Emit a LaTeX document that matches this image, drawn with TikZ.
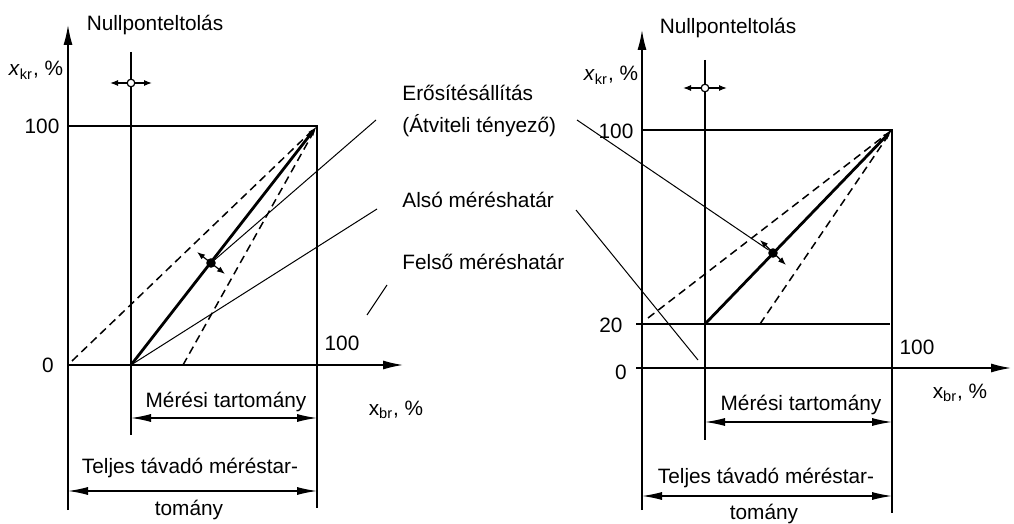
\documentclass[tikz,border=0pt]{standalone}
\usepackage{fontspec}
\setmainfont{Liberation Sans}
\usetikzlibrary{arrows.meta,positioning}

\begin{document}
\begin{tikzpicture}[
        x=0.5pt, y=-0.5pt,
        lbl/.style={inner sep=0pt, align=left, font=\fontsize{10.4}{16}\selectfont},
        axis/.style={-{Latex[length=10pt,width=4.5pt]}, line width=0.7pt},
        frame/.style={line width=0.6pt},
        leader/.style={line width=0.5pt},
        gain/.style={line width=1.4pt, -{Latex[length=5pt,width=3.2pt]}},
        limit/.style={dash pattern=on 4pt off 2.5pt, line width=0.75pt},
        dim/.style={{Latex[length=10pt,width=4pt]}-{Latex[length=10pt,width=4pt]}, line width=0.6pt},
        shiftarr/.style={{Latex[length=4pt,width=3pt]}-{Latex[length=4pt,width=3pt]}, line width=0.6pt},
        knob/.style={circle, draw, fill=white, inner sep=0pt, minimum size=3.8pt, line width=0.6pt},
        pivot/.style={circle, fill, inner sep=0pt, minimum size=4.8pt}
    ]
        \useasboundingbox (0,0) rectangle (1014,524);

        % left diagram
        \coordinate (Lorg) at (68,365);
        \coordinate (Lytop) at (68,25);
        \coordinate (Lybot) at (68,510);
        \coordinate (Lxend) at (403,365);
        \coordinate (Lzero) at (131,365);
        \coordinate (Lztop) at (131,52);
        \coordinate (Lzbot) at (131,435);
        \coordinate (Lhund) at (68,126);
        \coordinate (Lfull) at (317,126);
        \coordinate (Lrbot) at (317,508);
        \coordinate (Lupd) at (72,361);
        \coordinate (Llod) at (183,365);
        \coordinate (Lpa) at (197,252);
        \coordinate (Lpb) at (225,274);
        \coordinate (Lkw) at (110,83);
        \coordinate (Lke) at (152,83);
        \coordinate (Lm1) at (131,418);
        \coordinate (Lm2) at (317,418);
        \coordinate (Lt1) at (68,491);
        \coordinate (Lt2) at (317,491);
        \coordinate (Lgainend) at (376,120);
        \coordinate (Llowend) at (377,209);
        \coordinate (Lupa) at (367,315);
        \coordinate (Lupb) at (387,285);

        \draw[axis] (Lybot) -- (Lytop);
        \draw[axis] (Lorg) -- (Lxend);
        \draw[frame] (Lztop) -- (Lzbot);
        \draw[frame] (Lhund) -- (Lfull) -- (Lrbot);
        \draw[limit] (Lupd) -- (Lfull);
        \draw[limit] (Llod) -- (Lfull);
        \draw[gain] (Lzero) -- (Lfull);
        \draw[shiftarr] (Lpa) -- (Lpb);
        \node[pivot] (Ldot) at (211,263) {};
        \draw[shiftarr] (Lkw) -- (Lke);
        \node[knob] (Lknob) at (131,83) {};
        \draw[dim] (Lm1) -- (Lm2);
        \draw[dim] (Lt1) -- (Lt2);
        \draw[leader] (Ldot) -- (Lgainend);
        \draw[leader] (Lzero) -- (Llowend);
        \draw[leader] (Lupa) -- (Lupb);

        \node[lbl] (Lnull) at (155,25) {Nullponteltolás};
        \node[lbl] (Lykr) at (36,70) {\textit{x}\textsubscript{kr}, \%};
        \node[lbl] (Ly100) at (42,126) {100};
        \node[lbl] (Ly0) at (48,365) {0};
        \node[lbl] (Lx100) at (342,343) {100};
        \node[lbl] (Lxbr) at (396,410) {x\textsubscript{br}, \%};
        \node[lbl] (Lmeas) at (226,402) {Mérési tartomány};
        \node[lbl] (Ltot) at (190,468) {Teljes távadó méréstar-};
        \node[lbl] (Ltot2) at (189,510) {tomány};

        \node[lbl, anchor=west] (gaintxt) at (402,111) {Erősítésállítás\\(Átviteli tényező)};
        \node[lbl, anchor=west] (lowtxt) at (402,200) {Alsó méréshatár};
        \node[lbl, anchor=west] (uptxt) at (402,262) {Felső méréshatár};

        % right diagram
        \coordinate (Rorg) at (642,368);
        \coordinate (Rytop) at (642,30);
        \coordinate (Rybot) at (642,510);
        \coordinate (Rxbeg) at (636,368);
        \coordinate (Rxend) at (1011,368);
        \coordinate (Rzero) at (705,324);
        \coordinate (Rztop) at (705,60);
        \coordinate (Rzbot) at (705,440);
        \coordinate (Rhund) at (642,130);
        \coordinate (Rfull) at (892,130);
        \coordinate (Rrbot) at (892,513);
        \coordinate (Rtwa) at (636,324);
        \coordinate (Rtwb) at (890,324);
        \coordinate (Rupd) at (648,318);
        \coordinate (Rlod) at (760,324);
        \coordinate (Rpa) at (760,240);
        \coordinate (Rpb) at (786,265);
        \coordinate (Rkw) at (683,88);
        \coordinate (Rke) at (727,88);
        \coordinate (Rm1) at (705,422);
        \coordinate (Rm2) at (892,422);
        \coordinate (Rt1) at (642,496);
        \coordinate (Rt2) at (892,496);
        \coordinate (Rgainbeg) at (577,120);
        \coordinate (Rlowbeg) at (576,210);
        \coordinate (Rlowend) at (698,360);

        \draw[axis] (Rybot) -- (Rytop);
        \draw[axis] (Rxbeg) -- (Rxend);
        \draw[frame] (Rztop) -- (Rzbot);
        \draw[frame] (Rhund) -- (Rfull) -- (Rrbot);
        \draw[frame] (Rtwa) -- (Rtwb);
        \draw[limit] (Rupd) -- (Rfull);
        \draw[limit] (Rlod) -- (Rfull);
        \draw[gain] (Rzero) -- (Rfull);
        \draw[shiftarr] (Rpa) -- (Rpb);
        \node[pivot] (Rdot) at (773,253) {};
        \draw[shiftarr] (Rkw) -- (Rke);
        \node[knob] (Rknob) at (705,88) {};
        \draw[dim] (Rm1) -- (Rm2);
        \draw[dim] (Rt1) -- (Rt2);
        \draw[leader] (Rgainbeg) -- (Rdot);
        \draw[leader] (Rlowbeg) -- (Rlowend);

        \node[lbl] (Rnull) at (728,28) {Nullponteltolás};
        \node[lbl] (Rykr) at (611,75) {\textit{x}\textsubscript{kr}, \%};
        \node[lbl] (Ry100) at (616,131) {100};
        \node[lbl] (Ry20) at (611,325) {20};
        \node[lbl] (Ry0) at (621,372) {0};
        \node[lbl] (Rx100) at (917,347) {100};
        \node[lbl] (Rxbr) at (960,393) {x\textsubscript{br}, \%};
        \node[lbl] (Rmeas) at (801,405) {Mérési tartomány};
        \node[lbl] (Rtot) at (766,478) {Teljes távadó méréstar-};
        \node[lbl] (Rtot2) at (764,514) {tomány};
    \end{tikzpicture}
\end{document}
